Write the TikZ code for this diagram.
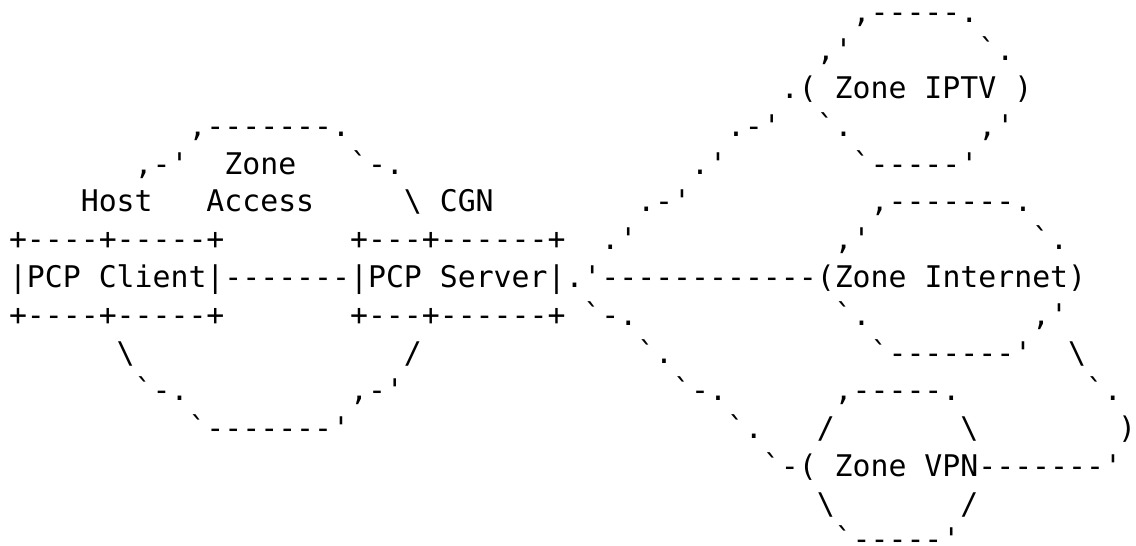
\documentclass[tikz,border=0pt]{standalone}
\usepackage{fontspec}
\setmonofont{DejaVu Sans Mono}
% character grid: 17.95pt per column, 37.8pt per line
\newcommand{\cw}{17.95}
\newcommand{\lh}{37.8}
\tikzset{
  glyphs/.style={anchor=base west, inner sep=0pt, outer sep=0pt,
    font=\ttfamily\fontsize{29.82pt}{36pt}\selectfont, text=black},
}
% \run{name}{column}{line}{text}
\newcommand{\run}[4]{\node[glyphs] (#1) at ({9.025+\cw*#2},{523-\lh*#3}) {#4};}
\begin{document}
\begin{tikzpicture}[x=1pt,y=1pt]
\fill[white] (0,0) rectangle (1136,546);
\useasboundingbox (0,0) rectangle (1136,546);

% Zone IPTV
\run{iptvtop}{47}{0}{,-----.}
\run{iptvnw}{45}{1}{,'}
\run{iptvne}{54}{1}{`.}
\run{iptv}{43}{2}{.( Zone IPTV )}
\run{linkiptva}{40}{3}{.-'}
\run{iptvsw}{45}{3}{`.}
\run{iptvse}{54}{3}{,'}
\run{linkiptvb}{38}{4}{.'}
\run{iptvbot}{47}{4}{`-----'}
\run{linkiptvc}{35}{5}{.-'}
\run{linkiptvd}{33}{6}{.'}

% Zone Access (left cloud)
\run{accesstop}{10}{3}{,-------.}
\run{accessnw}{7}{4}{,-'}
\run{zonelbl}{12}{4}{Zone}
\run{accessne}{19}{4}{`-.}
\run{hostlbl}{4}{5}{Host}
\run{accesslbl}{11}{5}{Access}
\run{cgnlbl}{22}{5}{\textbackslash{} CGN}
\run{accesssw}{6}{9}{\textbackslash}
\run{accessse}{22}{9}{/}
\run{accesslw}{7}{10}{`-.}
\run{accessle}{19}{10}{,-'}
\run{accessbot}{10}{11}{`-------'}

% PCP client and server boxes
\run{clienttop}{0}{6}{+----+-----+}
\run{servertop}{19}{6}{+---+------+}
\run{mainline}{0}{7}{|PCP Client|-------|PCP Server|.'------------(Zone Internet)}
\run{clientbot}{0}{8}{+----+-----+}
\run{serverbot}{19}{8}{+---+------+}

% Zone Internet
\run{inettop}{48}{5}{,-------.}
\run{inetnw}{46}{6}{,'}
\run{inetne}{57}{6}{`.}
\run{inetsw}{46}{8}{`.}
\run{inetse}{57}{8}{,'}
\run{inetbot}{48}{9}{`-------'}

% path towards Zone VPN
\run{linkvpna}{32}{8}{`-.}
\run{linkvpnb}{35}{9}{`.}
\run{linkvpnc}{37}{10}{`-.}
\run{linkvpnd}{40}{11}{`.}

% Internet to VPN link
\run{inetvpna}{59}{9}{\textbackslash}
\run{inetvpnb}{60}{10}{`.}
\node[glyphs, anchor=base east] (inetvpnc) at (1136,{523-\lh*11}) {)};

% Zone VPN
\run{vpntop}{46}{10}{,-----.}
\run{vpnnw}{45}{11}{/}
\run{vpnne}{53}{11}{\textbackslash}
\run{vpn}{42}{12}{`-( Zone VPN-------'}
\run{vpnsw}{45}{13}{\textbackslash}
\run{vpnse}{53}{13}{/}
\node[glyphs] (vpnbot) at ({9.025+\cw*46},{526-\lh*14}) {`-----'};
\end{tikzpicture}
\end{document}
